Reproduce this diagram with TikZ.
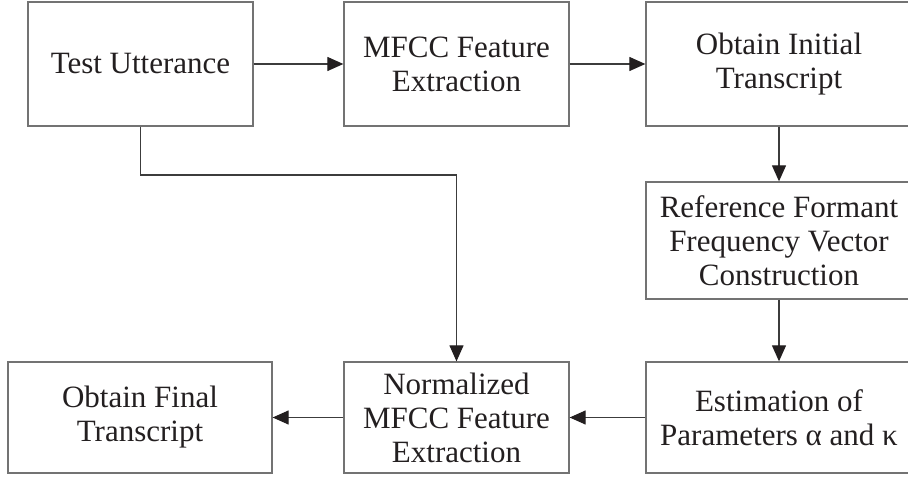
\documentclass[tikz,border=0pt]{standalone}
\usepackage{fontspec}
\setmainfont{Liberation Serif}
\usetikzlibrary{arrows.meta}
\definecolor{boxgray}{RGB}{115,115,115}
\definecolor{linegray}{RGB}{60,60,60}
\definecolor{ink}{RGB}{35,31,32}
\tikzset{
  blk/.style={draw=boxgray, line width=1.3pt, rectangle, align=center, inner sep=0pt,
    text=ink, font=\fontsize{31}{34}\selectfont},
  arr/.style={draw=linegray, line width=1.2pt,
    -{Triangle[length=16pt,width=14pt,fill=ink,color=ink]}}
}
\begin{document}
\begin{tikzpicture}[x=1pt,y=-1pt]
\useasboundingbox (0,0) rectangle (908,478);
\node[blk, minimum width=225pt, minimum height=124pt] (tu) at (140.5,64) {Test Utterance};
\node[blk, minimum width=225pt, minimum height=124pt] (mfcc) at (456.5,64) {MFCC Feature\\Extraction};
\node[blk, minimum width=266pt, minimum height=124pt] (init) at (779,64) {Obtain Initial\\Transcript};
\node[blk, minimum width=266pt, minimum height=117pt] (ref) at (779,240.5) {Reference Formant\\Frequency Vector\\Construction};
\node[blk, minimum width=266pt, minimum height=111pt] (est) at (779,417.5) {Estimation of\\Parameters α and κ};
\node[blk, minimum width=225pt, minimum height=111pt] (norm) at (456.5,417.5) {Normalized\\MFCC Feature\\Extraction};
\node[blk, minimum width=264pt, minimum height=111pt] (fin) at (140,417.5) {Obtain Final\\Transcript};
\coordinate (j) at (456.5,175);
\draw[arr] (tu) -- (mfcc);
\draw[arr] (mfcc) -- (init);
\draw[arr] (init) -- (ref);
\draw[arr] (ref) -- (est);
\draw[arr] (est) -- (norm);
\draw[arr] (norm) -- (fin);
\draw[arr] (tu.south) |- (j) -- (norm.north);
\end{tikzpicture}
\end{document}
